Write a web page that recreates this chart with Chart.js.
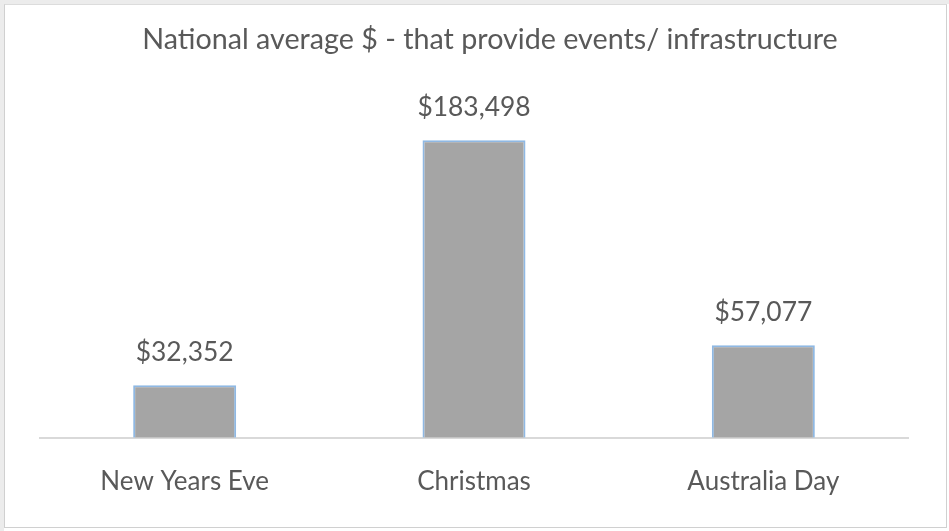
<!DOCTYPE html>
<html>
<head>
<meta charset="utf-8">
<script src="https://cdn.jsdelivr.net/npm/chart.js@4/dist/chart.umd.min.js"></script>
<style>
  html, body { margin:0; padding:0; background:#fff; }
  #frame { position:absolute; left:0; top:0; width:945px; height:527px;
           border-top:4px solid #ececec; border-left:4px solid #ececec; }
  #inner { position:absolute; left:0; top:0; width:941px; height:522px; border:1px solid #d0d0d0; border-top:1px solid #dcdcdc; }
  canvas { position:absolute; left:0; top:0; }
</style>
</head>
<body>
<div id="frame"><div id="inner"></div></div>
<canvas id="chart" width="949" height="531"></canvas>
<script>
const categories = ['New Years Eve', 'Christmas', 'Australia Day'];
const averages = [32352, 183498, 57077];
const titleText = 'National average $ - that provide events/ infrastructure';

const FONT = 'Lato, "Open Sans", sans-serif';
const TEXT = '#595959';

function money(v){ return '$' + v.toLocaleString('en-US'); }

// title (sits a little right of the plot centre) and labels above each bar
const valueLabels = {
  id:'valueLabels',
  afterDatasetsDraw(chart){
    const ctx = chart.ctx;
    const meta = chart.getDatasetMeta(0);
    ctx.save();
    ctx.fillStyle = TEXT;
    ctx.textAlign = 'center';
    ctx.textBaseline = 'middle';
    ctx.font = '28.7px ' + FONT;
    ctx.fillText(titleText, 490, 40);
    ctx.textBaseline = 'alphabetic';
    ctx.font = '26.4px ' + FONT;
    meta.data.forEach((bar, i)=>{
      ctx.fillText(money(averages[i]), bar.x, bar.y - 24);
    });
    ctx.restore();
  }
};

new Chart(document.getElementById('chart'), {
  type:'bar',
  data:{
    labels:categories,
    datasets:[{
      data:averages,
      backgroundColor:'#a5a5a5',
      borderColor:'#8fb8e3',
      borderWidth:{ top:2, left:2, right:2, bottom:0 },
      borderSkipped:'bottom',
      categoryPercentage:1,
      barPercentage:0.356
    }]
  },
  options:{
    responsive:false,
    animation:false,
    layout:{ padding:{ left:40, right:41, top:97.2, bottom:6 } },
    plugins:{
      legend:{ display:false },
      tooltip:{ enabled:false },
      title:{ display:false }
    },
    scales:{
      x:{
        grid:{ display:false, drawTicks:false },
        border:{ color:'#d9d9d9', width:2 },
        ticks:{ color:TEXT, font:{ family:FONT, size:26 }, padding:28 }
      },
      y:{ display:false, min:0, max:210000 }
    }
  },
  plugins:[valueLabels]
});
</script>
</body>
</html>
